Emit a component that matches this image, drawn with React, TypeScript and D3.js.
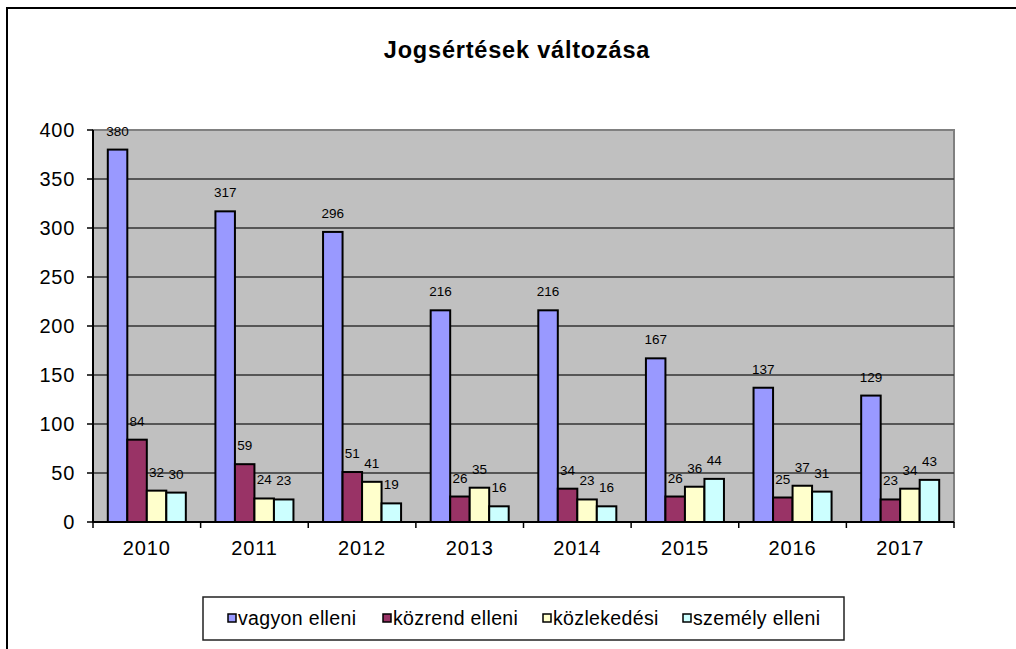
import * as d3 from "d3";

const years = ["2010", "2011", "2012", "2013", "2014", "2015", "2016", "2017"];
const seriesNames = ["vagyon elleni", "közrend elleni", "közlekedési", "személy elleni"];
const vagyon = [380, 317, 296, 216, 216, 167, 137, 129];
const kozrend = [84, 59, 51, 26, 34, 26, 25, 23];
const kozlekedesi = [32, 24, 41, 35, 23, 36, 37, 34];
const szemely = [30, 23, 19, 16, 16, 44, 31, 43];
const yTicks = [0, 50, 100, 150, 200, 250, 300, 350, 400];
const colors = ["#9999ff", "#993366", "#ffffcc", "#ccffff"];

const W = 1016;
const H = 649;
const FONT = "'Liberation Sans', Arial, sans-serif";

export default function App() {
  const series = [vagyon, kozrend, kozlekedesi, szemely];
  const left = 93, right = 954, top = 130, bottom = 522;

  const x = d3.scaleBand().domain(years).range([left, right]).paddingInner(0.275).paddingOuter(0.1375);
  const xs = d3.scaleBand().domain(seriesNames).range([0, x.bandwidth()]);
  const y = d3.scaleLinear().domain([0, 400]).range([bottom, top]);

  const step = x.step();
  // boundaries between categories for x tick marks
  const bounds = d3.range(years.length + 1).map((i) => left + i * step);

  const legendX = [228, 383, 543, 683];

  return (
    <svg width={W} height={H} style={{ position: "absolute", left: 0, top: 0 }} fontFamily={FONT}>
      <rect x={0} y={0} width={W} height={H} fill="#fff" />
      <rect x={7} y={8} width={W + 20} height={H + 20} fill="none" stroke="#000" strokeWidth={2} />

      <text x={517} y={58} textAnchor="middle" fontSize={23.5} fontWeight="bold" letterSpacing={0.8} fill="#000">
        Jogsértések változása
      </text>

      {/* plot area */}
      <rect x={left} y={top} width={right - left} height={bottom - top} fill="#c0c0c0" stroke="#808080" strokeWidth={2} />

      {yTicks.filter((t) => t > 0 && t < 400).map((t) => (
        <line key={t} x1={left} x2={right} y1={y(t)} y2={y(t)} stroke="#333" strokeWidth={1.5} />
      ))}

      {years.map((yr, i) =>
        series.map((s, j) => {
          const bx = (x(yr) ?? 0) + (xs(seriesNames[j]) ?? 0);
          const bw = xs.bandwidth();
          return (
            <g key={yr + j}>
              <rect x={bx} y={y(s[i])} width={bw} height={bottom - y(s[i])} fill={colors[j]} stroke="#000" strokeWidth={2} />
              <text x={bx + bw / 2} y={y(s[i]) - 14} textAnchor="middle" fontSize={13.5} fill="#000">
                {s[i]}
              </text>
            </g>
          );
        })
      )}

      {/* axes */}
      <line x1={left} x2={left} y1={top} y2={bottom} stroke="#000" strokeWidth={2} />
      <line x1={left} x2={right} y1={bottom} y2={bottom} stroke="#000" strokeWidth={2} />
      {yTicks.map((t) => (
        <g key={t}>
          <line x1={left - 6} x2={left} y1={y(t)} y2={y(t)} stroke="#000" strokeWidth={1.5} />
          <text x={75} y={y(t) + 7} textAnchor="end" fontSize={20} letterSpacing={0.7} fill="#000">
            {t}
          </text>
        </g>
      ))}
      {bounds.map((b, i) => (
        <line key={i} x1={b} x2={b} y1={bottom} y2={bottom + 6} stroke="#000" strokeWidth={1.5} />
      ))}
      {years.map((yr) => (
        <text key={yr} x={(x(yr) ?? 0) + x.bandwidth() / 2} y={555} textAnchor="middle" fontSize={20} letterSpacing={0.9} fill="#000">
          {yr}
        </text>
      ))}

      {/* legend */}
      <rect x={203} y={597} width={641} height={43} fill="#fff" stroke="#222" strokeWidth={1.5} />
      {seriesNames.map((n, j) => (
        <g key={n}>
          <rect x={legendX[j]} y={614} width={8} height={8} fill={colors[j]} stroke="#000" strokeWidth={1.5} />
          <text x={legendX[j] + 10} y={625} fontSize={19.5} letterSpacing={0.35} fill="#000">
            {n}
          </text>
        </g>
      ))}
    </svg>
  );
}
